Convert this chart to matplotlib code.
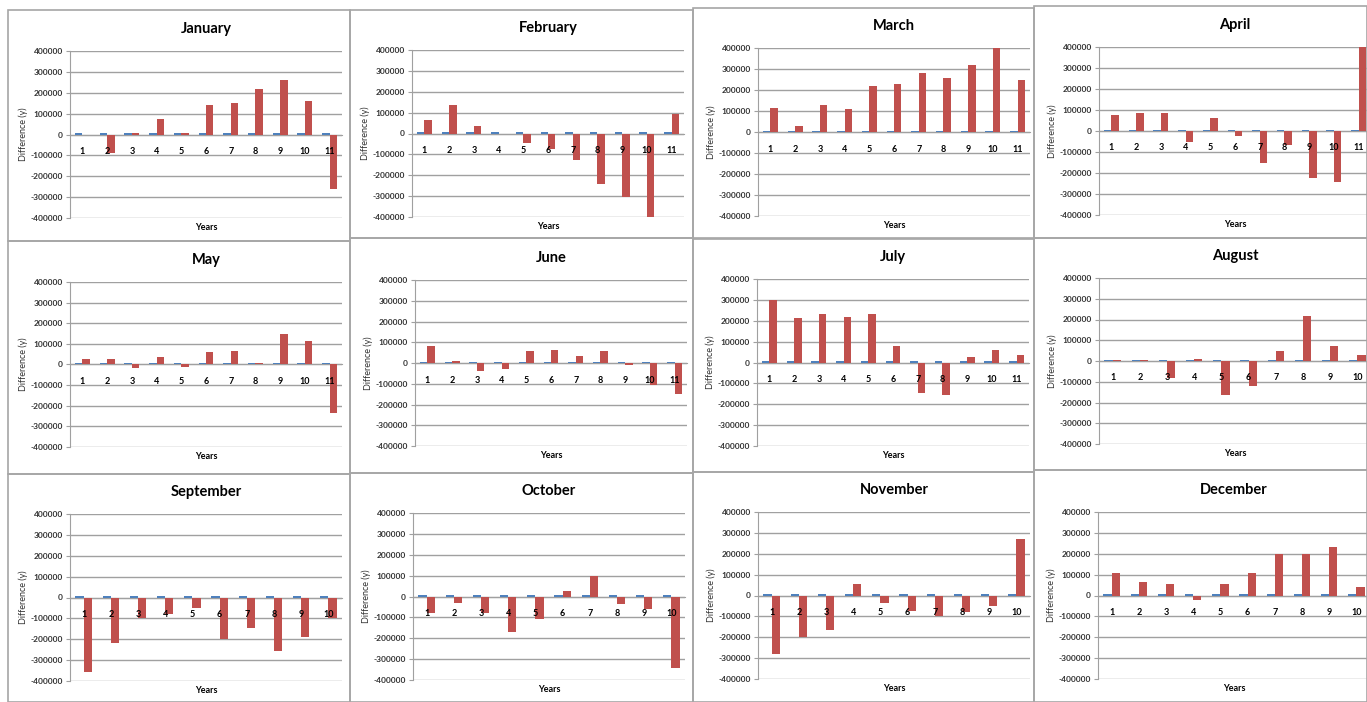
import matplotlib
matplotlib.use("Agg")
import matplotlib.pyplot as plt
from matplotlib.patches import Rectangle

plt.rcParams['font.family'] = ['Lato', 'DejaVu Sans']

months = ['January', 'February', 'March', 'April', 'May', 'June',
          'July', 'August', 'September', 'October', 'November', 'December']

# red series (difference per year)
jan = [0, -88000, 5000, 75000, 5000, 143000, 152000, 220000, 262000, 162000, -262000]
feb = [65000, 135000, 38000, 0, -45000, -75000, -125000, -242000, -305000, -400000, 92000]
mar = [115000, 30000, 130000, 110000, 220000, 230000, 280000, 255000, 320000, 405000, 248000]
apr = [75000, 85000, 88000, -52000, 62000, -25000, -152000, -65000, -225000, -242000, 420000]
may = [28000, 28000, -15000, 38000, -10000, 60000, 65000, 5000, 148000, 115000, -235000]
jun = [80000, 12000, -38000, -28000, 60000, 65000, 32000, 60000, -10000, -108000, -148000]
jul = [300000, 215000, 230000, 220000, 230000, 78000, -148000, -158000, 28000, 60000, 37000]
aug = [5000, 5000, -80000, 12000, -162000, -120000, 50000, 215000, 72000, 30000]
sep = [-358000, -220000, -100000, -80000, -52000, -200000, -148000, -258000, -190000, -100000]
octo = [-80000, -30000, -80000, -170000, -108000, 25000, 100000, -35000, -60000, -343000]
nov = [-280000, -200000, -165000, 55000, -35000, -75000, -100000, -80000, -52000, 270000]
dec = [110000, 65000, 55000, -22000, 55000, 107000, 200000, 200000, 230000, 42000]
red_series = [jan, feb, mar, apr, may, jun, jul, aug, sep, octo, nov, dec]

# blue series: tiny values just above zero
blue_11 = [6000, 6000, 6000, 6000, 6000, 6000, 6000, 6000, 6000, 6000, 6000]
blue_10 = [6000, 6000, 6000, 6000, 6000, 6000, 6000, 6000, 6000, 6000]

yticks = [-400000, -300000, -200000, -100000, 0, 100000, 200000, 300000, 400000]

W, H = 1367, 702

# panel frames (x0, y0, x1, y1) in pixels, and plot area (left, top, bottom)
boxes = [(8, 10, 350, 241), (350, 10, 693, 238), (693, 8, 1034, 238), (1034, 6, 1367, 238),
         (8, 241, 350, 474), (350, 238, 693, 473), (693, 239, 1034, 472), (1034, 238, 1367, 470),
         (8, 474, 350, 702), (350, 473, 693, 702), (693, 472, 1034, 702), (1034, 470, 1367, 702)]
areas = [(70, 51, 218), (412, 50, 217), (758, 48, 216), (1099, 47, 215),
         (70, 282, 447), (415, 280, 446), (757, 279, 446), (1099, 278, 444),
         (70, 514, 681), (413, 513, 680), (758, 512, 679), (1098, 512, 679)]

fig = plt.figure(figsize=(W / 100, H / 100), dpi=100)
fig.patch.set_facecolor('white')

for (x0, y0, x1, y1) in boxes:
    fig.patches.append(Rectangle((x0 / W, 1 - y1 / H), (x1 - x0) / W, (y1 - y0) / H,
                                 transform=fig.transFigure, fill=False,
                                 edgecolor='#A6A6A6', linewidth=1.2, zorder=0))

for i, month in enumerate(months):
    left, top, bottom = areas[i]
    red = red_series[i]
    blue = blue_11 if len(red) == 11 else blue_10
    years = list(range(1, len(red) + 1))
    ax = fig.add_axes([left / W, 1 - bottom / H, 272 / W, (bottom - top) / H])
    ax.set_facecolor('none')
    # category axis crosses at zero (set first: it resets the ticks)
    ax.spines['bottom'].set_position(('data', 0))
    ax.spines['bottom'].set_color('#A0A0A0')
    for s in ['top', 'right']:
        ax.spines[s].set_visible(False)
    ax.spines['left'].set_color('#A0A0A0')

    xb = [y - 0.15 for y in years]
    xr = [y + 0.15 for y in years]
    ax.bar(xb, blue, width=0.3, color='#4F81BD', zorder=3)
    ax.bar(xr, red, width=0.3, color='#C0504D', zorder=3)
    ax.set_xlim(0.5, len(red) + 0.5)
    ax.set_ylim(-400000, 400000)
    ax.set_yticks(yticks)
    ax.set_yticklabels([str(v) for v in yticks], fontsize=6, fontweight='bold', color='#333333')
    ax.set_xticks(years)
    ax.set_xticklabels([str(y) for y in years], fontsize=6.5, fontweight='bold')
    ax.xaxis.set_zorder(4)  # year labels sit on top of the bars
    ax.grid(axis='y', color='#A0A0A0', linewidth=1)
    ax.tick_params(axis='x', length=0, pad=9)
    ax.tick_params(axis='y', length=3, color='#A0A0A0', pad=2)
    ax.set_title(month, fontsize=10.5, fontweight='bold', pad=13)
    ax.set_ylabel('Difference (y)', fontsize=6.5, color='#333333', labelpad=2)
    ax.text(0.5, -0.03, 'Years', transform=ax.transAxes, ha='center', va='top',
            fontsize=6.5, fontweight='bold')

fig.savefig('out.png', dpi=100)
